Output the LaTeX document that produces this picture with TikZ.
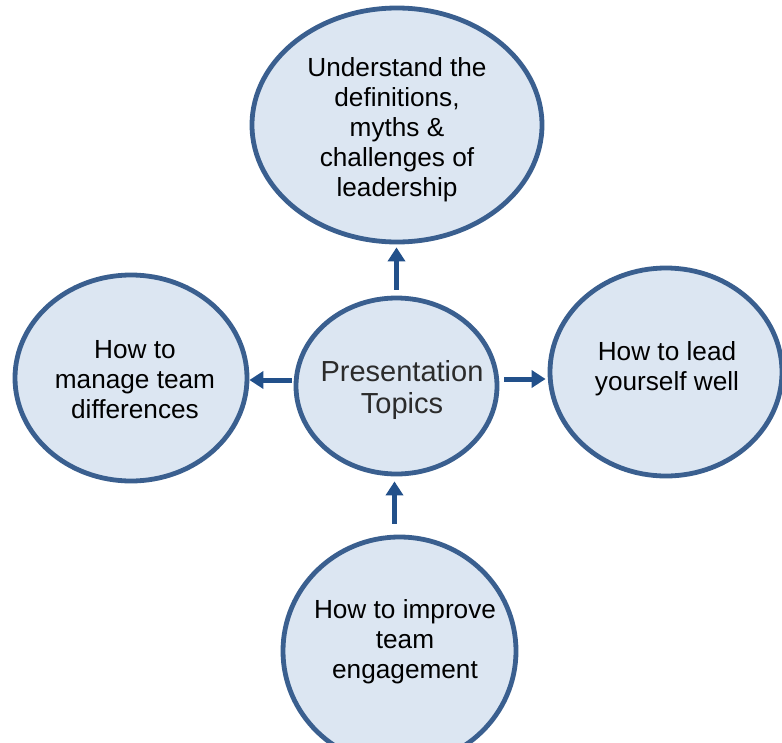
\documentclass[tikz,border=0pt]{standalone}
\usepackage{fontspec}
\setmainfont{Liberation Sans}
\usetikzlibrary{shapes.geometric,arrows.meta}
\definecolor{bubblefill}{HTML}{DCE6F2}
\definecolor{bubbleline}{HTML}{3A5F8F}
\definecolor{arrowblue}{HTML}{22508A}
\definecolor{centertext}{HTML}{2B2B2B}
\begin{document}
\begin{tikzpicture}[x=1pt,y=-1pt,
  bubble/.style={ellipse,draw=bubbleline,fill=bubblefill,line width=4.8pt,inner sep=0pt},
  txt/.style={align=center,font=\fontsize{26.2}{30}\selectfont,text=black,inner sep=0pt},
  ctxt/.style={align=center,font=\fontsize{29}{32.5}\selectfont,text=centertext,inner sep=0pt},
  arr/.style={draw=arrowblue,line width=5pt,-{Triangle[width=17pt,length=14pt]}}]
\useasboundingbox (0,0) rectangle (782,742);
% bubbles
\node[bubble,minimum width=290pt,minimum height=234pt] (t) at (397,125) {};
\node[bubble,minimum width=201pt,minimum height=176pt] (c) at (396.5,386) {};
\node[bubble,minimum width=232pt,minimum height=206pt] (l) at (131,378) {};
\node[bubble,minimum width=232pt,minimum height=208pt] (r) at (666,372) {};
\node[bubble,minimum width=233pt,minimum height=228pt] (b) at (399.5,651) {};
% texts
\node[txt] (tt) at (397,130) {Understand the\\definitions,\\myths \&\\challenges of\\leadership};
\node[ctxt] (ct) at (402,390) {Presentation\\Topics};
\node[txt] (lt) at (135,380) {How to\\manage team\\differences};
\node[txt] (rt) at (667,369) {How to lead\\yourself well};
\node[txt] (bt) at (405,642) {How to improve\\team\\engagement};
% arrows
\draw[arr,shorten <=6pt,shorten >=3pt] (c.north) -- (c.north |- t.south);
\draw[arr,shorten <=2pt,shorten >=0pt] ([yshift=6pt]c.west) -- ([yshift=6pt]c.west -| l.east);
\draw[arr,shorten <=5pt,shorten >=2pt] ([yshift=7pt]c.east) -- ([yshift=7pt]c.east -| r.west);
\draw[arr,shorten <=11pt,shorten >=5pt] ([xshift=-5pt]b.north) -- ([xshift=-5pt]b.north |- c.south);
\end{tikzpicture}
\end{document}
